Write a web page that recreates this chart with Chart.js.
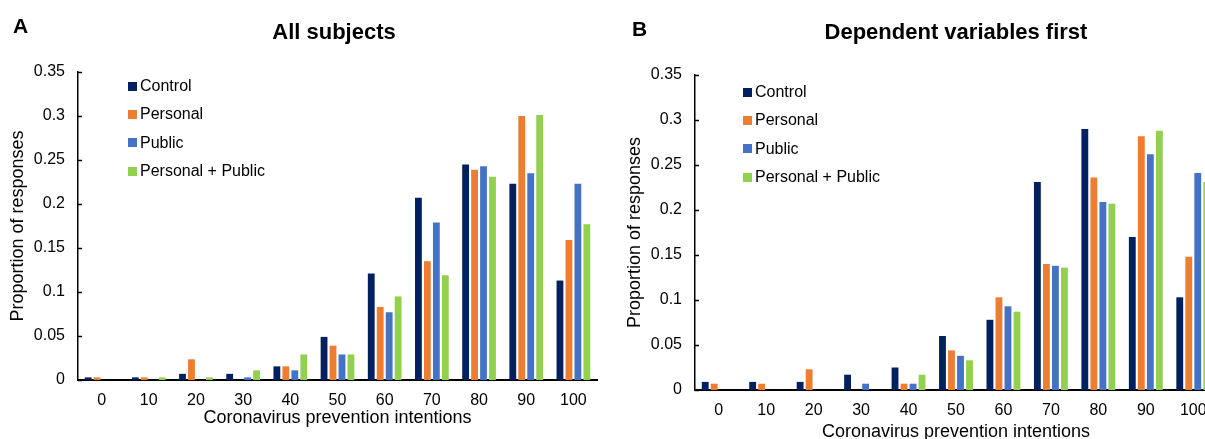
<!DOCTYPE html>
<html>
<head>
<meta charset="utf-8">
<script src="https://cdn.jsdelivr.net/npm/chart.js@4/dist/chart.umd.min.js"></script>
<style>
  body {
    margin: 0;
    width: 1205px;
    height: 439px;
    overflow: hidden;
    position: relative;
    background: #fff;
    font-family: "Liberation Sans", Arial, sans-serif;
    color: #000;
  }
  .panel { position: absolute; top: 0; height: 439px; overflow: hidden; }
  #panelA { left: 0; width: 600px; }
  #panelB { left: 600px; width: 605px; }
  .letter, .title {
    position: absolute;
    font-weight: bold;
    line-height: 1;
    white-space: nowrap;
  }
  .letter { font-size: 21px; }
  .title { font-size: 22px; width: 400px; text-align: center; }
  .legend { position: absolute; font-size: 16px; }
  .legendItem { display: flex; align-items: center; height: 28.3px; white-space: nowrap; }
  .legendBox { width: 9px; height: 9px; margin-right: 3px; }
</style>
</head>
<body>
<div class="panel" id="panelA"><canvas id="chartA" width="600" height="439"></canvas></div>
<div class="panel" id="panelB"><canvas id="chartB" width="625" height="445"></canvas></div>

<div class="letter" style="left:13px;top:15px;">A</div>
<div class="title" style="left:134px;top:21px;">All subjects</div>
<div class="letter" style="left:632px;top:18px;">B</div>
<div class="title" style="left:756px;top:21px;">Dependent variables first</div>

<div class="legend" id="legendA" style="left:128px;top:72px;"></div>
<div class="legend" id="legendB" style="left:743px;top:78px;"></div>

<script>
const categories = ["0", "10", "20", "30", "40", "50", "60", "70", "80", "90", "100"];
const seriesNames = ["Control", "Personal", "Public", "Personal + Public"];
const seriesColors = ["#002060", "#ED7D31", "#4472C4", "#92D050"];

// panel A - all subjects
const allControl  = [0.003, 0.003, 0.007, 0.007, 0.0155, 0.049, 0.121, 0.207, 0.245, 0.223, 0.113];
const allPersonal = [0.003, 0.003, 0.0235, 0, 0.0155, 0.039, 0.083, 0.135, 0.239, 0.300, 0.159];
const allPublic   = [0, 0, 0, 0.003, 0.011, 0.029, 0.077, 0.179, 0.243, 0.235, 0.223];
const allBoth     = [0, 0.003, 0.003, 0.011, 0.029, 0.029, 0.095, 0.119, 0.231, 0.301, 0.177];

// panel B - dependent variables first
const dvControl  = [0.009, 0.009, 0.009, 0.017, 0.025, 0.060, 0.078, 0.231, 0.290, 0.170, 0.103];
const dvPersonal = [0.007, 0.007, 0.023, 0, 0.007, 0.044, 0.103, 0.140, 0.236, 0.282, 0.148];
const dvPublic   = [0, 0, 0, 0.007, 0.007, 0.038, 0.093, 0.138, 0.209, 0.262, 0.241];
const dvBoth     = [0, 0, 0, 0, 0.017, 0.033, 0.087, 0.136, 0.207, 0.288, 0.231];

const yMin = 0;
const yMax = 0.35;
const yStep = 0.05;

const xTitle = "Coronavirus prevention intentions";
const yTitle = "Proportion of responses";

Chart.defaults.font.family = '"Liberation Sans", Arial, sans-serif';
Chart.defaults.color = "#000";

// short tick marks pointing into the plot, like the original
const innerTicks = {
  id: "innerTicks",
  afterDraw(chart) {
    const y = chart.scales.y;
    const ctx = chart.ctx;
    const x0 = chart.chartArea.left;
    ctx.save();
    ctx.strokeStyle = "#000";
    ctx.lineWidth = 1.5;
    y.ticks.forEach(t => {
      const py = Math.round(y.getPixelForValue(t.value)) + 0.5;
      ctx.beginPath();
      ctx.moveTo(x0, py);
      ctx.lineTo(x0 + 4, py);
      ctx.stroke();
    });
    ctx.restore();
  }
};

function makeDatasets(values) {
  return values.map((data, i) => ({
    label: seriesNames[i],
    data: data,
    backgroundColor: seriesColors[i],
    borderWidth: 0,
    categoryPercentage: 0.76,
    barPercentage: 0.76
  }));
}

function buildChart(canvasId, values, lay) {
  return new Chart(document.getElementById(canvasId), {
    type: "bar",
    data: {
      labels: categories,
      datasets: makeDatasets(values)
    },
    options: {
      responsive: false,
      animation: false,
      layout: { padding: { top: lay.top, right: lay.right, left: 0, bottom: 0 } },
      plugins: {
        legend: { display: false },
        tooltip: { enabled: false }
      },
      scales: {
        x: {
          grid: { display: false, drawTicks: false },
          border: { color: "#000", width: 2 },
          ticks: { font: { size: 16 }, padding: 11 },
          title: {
            display: true,
            text: xTitle,
            font: { size: 18 },
            padding: { top: 0, bottom: lay.xTitlePad }
          },
          afterFit: s => { s.height = lay.xHeight; }
        },
        y: {
          min: yMin,
          max: yMax,
          grid: { display: false, drawTicks: false },
          border: { color: "#000", width: 1.5 },
          ticks: {
            stepSize: yStep,
            font: { size: 16 },
            padding: 13,
            callback: v => String(Math.round(v * 100) / 100)
          },
          title: {
            display: true,
            text: yTitle,
            font: { size: 18 },
            padding: { top: lay.yTitlePad, bottom: 0 }
          },
          afterFit: s => { s.width = lay.yWidth; }
        }
      }
    },
    plugins: [innerTicks]
  });
}

function renderLegend(containerId) {
  const container = document.getElementById(containerId);
  if (!container) return;
  container.innerHTML = seriesNames.map((name, i) => `
    <div class="legendItem">
      <div class="legendBox" style="background:${seriesColors[i]}"></div>
      <div>${name}</div>
    </div>
  `).join("");
}

buildChart("chartA", [allControl, allPersonal, allPublic, allBoth], {
  top: 72, right: 3, yWidth: 78, xHeight: 59, xTitlePad: 10, yTitlePad: 7
});

buildChart("chartB", [dvControl, dvPersonal, dvPublic, dvBoth], {
  top: 75, right: 8, yWidth: 95, xHeight: 55, xTitlePad: 2, yTitlePad: 24
});

renderLegend("legendA");
renderLegend("legendB");
</script>
</body>
</html>
